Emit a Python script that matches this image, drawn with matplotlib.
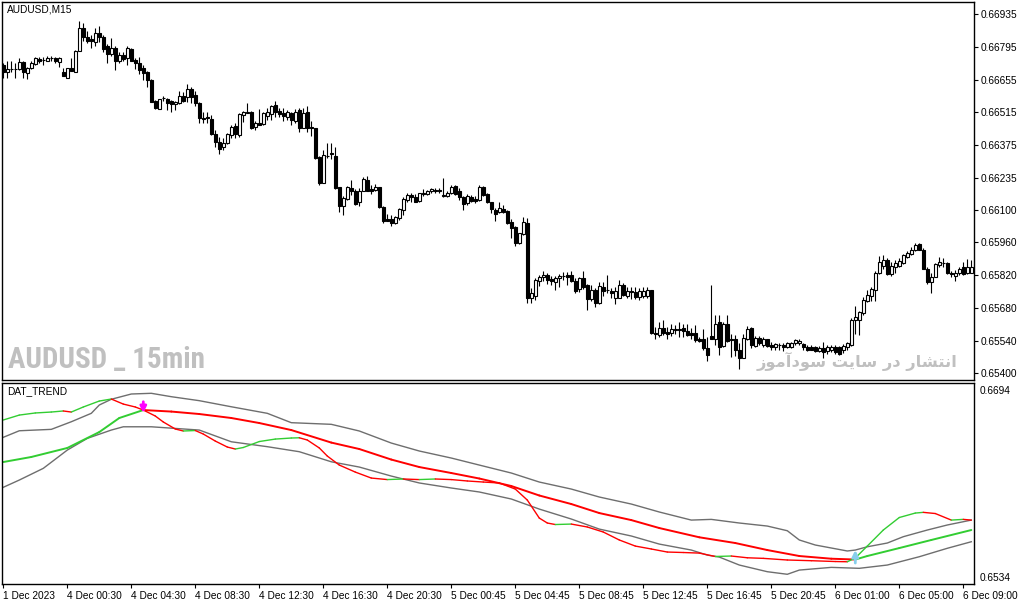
import numpy as np
import matplotlib
matplotlib.use('Agg')
import matplotlib.pyplot as plt
from matplotlib import font_manager

plt.rcParams['font.family'] = ['Liberation Sans', 'DejaVu Sans']

# AUDUSD M15 candles (bar 0 = first visible bar)
opens = [0.66717, 0.66689, 0.66699, 0.66701, 0.66700, 0.66729, 0.66682, 0.66706, 0.66720, 0.66743,
         0.66738, 0.66734, 0.66747, 0.66749, 0.66729, 0.66686, 0.66663, 0.66706, 0.66689, 0.66777,
         0.66874, 0.66838, 0.66828, 0.66817, 0.66853, 0.66838, 0.66796, 0.66763, 0.66791, 0.66732,
         0.66760, 0.66746, 0.66786, 0.66739, 0.66725, 0.66706, 0.66686, 0.66653, 0.66564, 0.66528,
         0.66576, 0.66572, 0.66564, 0.66549, 0.66554, 0.66585, 0.66582, 0.66615, 0.66589, 0.66554,
         0.66492, 0.66495, 0.66487, 0.66423, 0.66390, 0.66366, 0.66383, 0.66418, 0.66457, 0.66418,
         0.66504, 0.66514, 0.66518, 0.66452, 0.66469, 0.66464, 0.66500, 0.66508, 0.66547, 0.66521,
         0.66514, 0.66497, 0.66514, 0.66476, 0.66523, 0.66450, 0.66518, 0.66454, 0.66447, 0.66326,
         0.66215, 0.66328, 0.66343, 0.66329, 0.66195, 0.66115, 0.66144, 0.66191, 0.66181, 0.66130,
         0.66181, 0.66227, 0.66187, 0.66184, 0.66195, 0.66110, 0.66058, 0.66058, 0.66044, 0.66063,
         0.66098, 0.66141, 0.66162, 0.66155, 0.66138, 0.66172, 0.66167, 0.66177, 0.66184, 0.66185,
         0.66162, 0.66158, 0.66170, 0.66201, 0.66177, 0.66155, 0.66127, 0.66155, 0.66144, 0.66141,
         0.66195, 0.66167, 0.66130, 0.66098, 0.66090, 0.66102, 0.66095, 0.66048, 0.66024, 0.65958,
         0.65995, 0.66041, 0.65724, 0.65730, 0.65796, 0.65810, 0.65820, 0.65805, 0.65789, 0.65806,
         0.65815, 0.65820, 0.65820, 0.65796, 0.65759, 0.65806, 0.65777, 0.65716, 0.65756, 0.65699,
         0.65770, 0.65757, 0.65752, 0.65724, 0.65724, 0.65777, 0.65730, 0.65750, 0.65749, 0.65727,
         0.65730, 0.65730, 0.65756, 0.65571, 0.65564, 0.65592, 0.65577, 0.65571, 0.65585, 0.65588,
         0.65592, 0.65582, 0.65571, 0.65574, 0.65545, 0.65545, 0.65507, 0.65561, 0.65549, 0.65618,
         0.65517, 0.65609, 0.65545, 0.65545, 0.65500, 0.65468, 0.65549, 0.65592, 0.65517, 0.65553,
         0.65521, 0.65545, 0.65521, 0.65514, 0.65522, 0.65521, 0.65514, 0.65514, 0.65528, 0.65528,
         0.65525, 0.65514, 0.65514, 0.65511, 0.65497, 0.65507, 0.65497, 0.65500, 0.65514, 0.65511,
         0.65500, 0.65511, 0.65521, 0.65627, 0.65630, 0.65659, 0.65710, 0.65730, 0.65756, 0.65830,
         0.65858, 0.65884, 0.65824, 0.65855, 0.65858, 0.65872, 0.65898, 0.65909, 0.65927, 0.65952,
         0.65929, 0.65848, 0.65791, 0.65813, 0.65862, 0.65870, 0.65872, 0.65830, 0.65817, 0.65827,
         0.65855, 0.65830, 0.65830]
highs = [0.66727, 0.66732, 0.66734, 0.66725, 0.66749, 0.66732, 0.66710, 0.66732, 0.66753, 0.66753,
         0.66753, 0.66757, 0.66756, 0.66753, 0.66753, 0.66703, 0.66706, 0.66746, 0.66781, 0.66905,
         0.66895, 0.66863, 0.66843, 0.66877, 0.66884, 0.66843, 0.66806, 0.66831, 0.66796, 0.66774,
         0.66772, 0.66800, 0.66789, 0.66749, 0.66753, 0.66717, 0.66692, 0.66658, 0.66568, 0.66572,
         0.66586, 0.66575, 0.66568, 0.66564, 0.66606, 0.66601, 0.66636, 0.66621, 0.66606, 0.66558,
         0.66515, 0.66518, 0.66504, 0.66440, 0.66411, 0.66404, 0.66425, 0.66461, 0.66468, 0.66511,
         0.66521, 0.66554, 0.66520, 0.66476, 0.66528, 0.66518, 0.66533, 0.66547, 0.66564, 0.66533,
         0.66533, 0.66526, 0.66518, 0.66528, 0.66533, 0.66533, 0.66540, 0.66476, 0.66450, 0.66329,
         0.66355, 0.66386, 0.66386, 0.66369, 0.66198, 0.66158, 0.66201, 0.66224, 0.66187, 0.66191,
         0.66238, 0.66244, 0.66205, 0.66209, 0.66198, 0.66113, 0.66081, 0.66077, 0.66073, 0.66106,
         0.66152, 0.66170, 0.66172, 0.66167, 0.66172, 0.66187, 0.66184, 0.66191, 0.66190, 0.66190,
         0.66233, 0.66177, 0.66205, 0.66205, 0.66191, 0.66158, 0.66167, 0.66162, 0.66158, 0.66205,
         0.66201, 0.66170, 0.66134, 0.66105, 0.66133, 0.66119, 0.66098, 0.66058, 0.66029, 0.66001,
         0.66069, 0.66062, 0.65763, 0.65806, 0.65820, 0.65837, 0.65827, 0.65816, 0.65816, 0.65824,
         0.65834, 0.65834, 0.65837, 0.65806, 0.65813, 0.65837, 0.65781, 0.65777, 0.65763, 0.65791,
         0.65791, 0.65820, 0.65763, 0.65767, 0.65799, 0.65787, 0.65770, 0.65767, 0.65770, 0.65763,
         0.65770, 0.65767, 0.65757, 0.65599, 0.65620, 0.65628, 0.65599, 0.65611, 0.65606, 0.65620,
         0.65611, 0.65613, 0.65592, 0.65606, 0.65557, 0.65588, 0.65557, 0.65777, 0.65649, 0.65649,
         0.65620, 0.65649, 0.65568, 0.65564, 0.65528, 0.65568, 0.65602, 0.65599, 0.65559, 0.65559,
         0.65556, 0.65549, 0.65535, 0.65531, 0.65531, 0.65528, 0.65535, 0.65534, 0.65549, 0.65545,
         0.65531, 0.65521, 0.65521, 0.65517, 0.65517, 0.65535, 0.65521, 0.65521, 0.65521, 0.65517,
         0.65525, 0.65535, 0.65635, 0.65687, 0.65667, 0.65727, 0.65756, 0.65770, 0.65838, 0.65901,
         0.65905, 0.65891, 0.65877, 0.65884, 0.65895, 0.65912, 0.65924, 0.65941, 0.65955, 0.65958,
         0.65934, 0.65853, 0.65827, 0.65872, 0.65898, 0.65891, 0.65877, 0.65838, 0.65841, 0.65853,
         0.65877, 0.65887, 0.65884]
lows = [0.66663, 0.66660, 0.66689, 0.66660, 0.66696, 0.66663, 0.66656, 0.66700, 0.66717, 0.66725,
        0.66717, 0.66732, 0.66732, 0.66725, 0.66710, 0.66668, 0.66663, 0.66692, 0.66689, 0.66777,
        0.66820, 0.66810, 0.66789, 0.66800, 0.66817, 0.66774, 0.66727, 0.66757, 0.66696, 0.66725,
        0.66736, 0.66717, 0.66732, 0.66700, 0.66678, 0.66653, 0.66621, 0.66558, 0.66529, 0.66528,
        0.66564, 0.66525, 0.66518, 0.66525, 0.66549, 0.66558, 0.66558, 0.66554, 0.66544, 0.66468,
        0.66468, 0.66468, 0.66418, 0.66369, 0.66336, 0.66354, 0.66380, 0.66407, 0.66404, 0.66411,
        0.66472, 0.66511, 0.66445, 0.66440, 0.66461, 0.66461, 0.66483, 0.66483, 0.66497, 0.66497,
        0.66476, 0.66483, 0.66461, 0.66469, 0.66433, 0.66447, 0.66433, 0.66412, 0.66315, 0.66205,
        0.66212, 0.66319, 0.66315, 0.66187, 0.66091, 0.66077, 0.66141, 0.66162, 0.66120, 0.66115,
        0.66177, 0.66177, 0.66167, 0.66177, 0.66106, 0.66041, 0.66049, 0.66030, 0.66039, 0.66056,
        0.66077, 0.66134, 0.66134, 0.66134, 0.66134, 0.66158, 0.66162, 0.66170, 0.66170, 0.66172,
        0.66155, 0.66155, 0.66167, 0.66162, 0.66141, 0.66096, 0.66120, 0.66130, 0.66127, 0.66138,
        0.66158, 0.66127, 0.66087, 0.66052, 0.66083, 0.66083, 0.66038, 0.65977, 0.65944, 0.65952,
        0.65991, 0.65699, 0.65699, 0.65713, 0.65773, 0.65796, 0.65784, 0.65777, 0.65756, 0.65770,
        0.65799, 0.65777, 0.65791, 0.65742, 0.65749, 0.65759, 0.65673, 0.65710, 0.65682, 0.65696,
        0.65730, 0.65742, 0.65720, 0.65696, 0.65720, 0.65730, 0.65720, 0.65716, 0.65716, 0.65713,
        0.65720, 0.65724, 0.65568, 0.65545, 0.65557, 0.65564, 0.65549, 0.65559, 0.65568, 0.65557,
        0.65557, 0.65559, 0.65549, 0.65535, 0.65535, 0.65502, 0.65454, 0.65545, 0.65521, 0.65478,
        0.65514, 0.65535, 0.65471, 0.65474, 0.65417, 0.65464, 0.65542, 0.65507, 0.65511, 0.65521,
        0.65514, 0.65511, 0.65502, 0.65502, 0.65500, 0.65497, 0.65507, 0.65507, 0.65521, 0.65521,
        0.65502, 0.65497, 0.65500, 0.65492, 0.65492, 0.65464, 0.65485, 0.65492, 0.65482, 0.65478,
        0.65488, 0.65502, 0.65517, 0.65568, 0.65563, 0.65649, 0.65706, 0.65710, 0.65710, 0.65824,
        0.65848, 0.65820, 0.65817, 0.65830, 0.65855, 0.65867, 0.65891, 0.65905, 0.65924, 0.65927,
        0.65844, 0.65784, 0.65742, 0.65810, 0.65855, 0.65855, 0.65824, 0.65813, 0.65796, 0.65820,
        0.65820, 0.65824, 0.65827]
closes = [0.66686, 0.66700, 0.66700, 0.66699, 0.66729, 0.66686, 0.66706, 0.66725, 0.66746, 0.66736,
          0.66739, 0.66749, 0.66746, 0.66732, 0.66749, 0.66668, 0.66703, 0.66692, 0.66777, 0.66874,
          0.66838, 0.66820, 0.66820, 0.66853, 0.66838, 0.66786, 0.66763, 0.66791, 0.66732, 0.66760,
          0.66743, 0.66791, 0.66732, 0.66725, 0.66696, 0.66682, 0.66653, 0.66561, 0.66532, 0.66571,
          0.66578, 0.66554, 0.66549, 0.66558, 0.66585, 0.66564, 0.66615, 0.66582, 0.66554, 0.66490,
          0.66487, 0.66490, 0.66421, 0.66390, 0.66359, 0.66386, 0.66421, 0.66454, 0.66421, 0.66507,
          0.66515, 0.66515, 0.66447, 0.66471, 0.66461, 0.66514, 0.66518, 0.66543, 0.66518, 0.66508,
          0.66500, 0.66518, 0.66483, 0.66518, 0.66447, 0.66514, 0.66447, 0.66447, 0.66319, 0.66212,
          0.66333, 0.66330, 0.66336, 0.66191, 0.66115, 0.66148, 0.66195, 0.66177, 0.66124, 0.66181,
          0.66229, 0.66177, 0.66180, 0.66195, 0.66110, 0.66053, 0.66051, 0.66044, 0.66067, 0.66101,
          0.66144, 0.66162, 0.66152, 0.66134, 0.66170, 0.66167, 0.66177, 0.66187, 0.66180, 0.66180,
          0.66158, 0.66172, 0.66198, 0.66167, 0.66152, 0.66124, 0.66158, 0.66138, 0.66138, 0.66195,
          0.66162, 0.66130, 0.66101, 0.66080, 0.66105, 0.66090, 0.66041, 0.66019, 0.65958, 0.65998,
          0.66045, 0.65720, 0.65742, 0.65801, 0.65810, 0.65820, 0.65801, 0.65796, 0.65806, 0.65816,
          0.65817, 0.65813, 0.65796, 0.65753, 0.65806, 0.65770, 0.65716, 0.65756, 0.65699, 0.65773,
          0.65753, 0.65755, 0.65744, 0.65753, 0.65777, 0.65734, 0.65752, 0.65749, 0.65727, 0.65753,
          0.65752, 0.65756, 0.65574, 0.65567, 0.65592, 0.65574, 0.65568, 0.65588, 0.65588, 0.65587,
          0.65582, 0.65564, 0.65564, 0.65542, 0.65539, 0.65507, 0.65478, 0.65549, 0.65613, 0.65514,
          0.65609, 0.65539, 0.65541, 0.65500, 0.65467, 0.65553, 0.65588, 0.65521, 0.65553, 0.65528,
          0.65549, 0.65517, 0.65511, 0.65525, 0.65521, 0.65511, 0.65531, 0.65528, 0.65542, 0.65538,
          0.65511, 0.65502, 0.65502, 0.65497, 0.65507, 0.65492, 0.65514, 0.65514, 0.65492, 0.65482,
          0.65517, 0.65531, 0.65627, 0.65639, 0.65663, 0.65713, 0.65734, 0.65759, 0.65830, 0.65877,
          0.65884, 0.65824, 0.65858, 0.65870, 0.65881, 0.65905, 0.65915, 0.65929, 0.65948, 0.65929,
          0.65848, 0.65791, 0.65813, 0.65867, 0.65877, 0.65872, 0.65827, 0.65824, 0.65830, 0.65848,
          0.65824, 0.65855, 0.65855]

time_ticks = [0, 16, 32, 48, 64, 80, 96, 112, 128, 144, 160, 176, 192, 208, 224, 240]
time_labels = ['1 Dec 2023', '4 Dec 00:30', '4 Dec 04:30', '4 Dec 08:30', '4 Dec 12:30',
               '4 Dec 16:30', '4 Dec 20:30', '5 Dec 00:45', '5 Dec 04:45', '5 Dec 08:45',
               '5 Dec 12:45', '5 Dec 16:45', '5 Dec 20:45', '6 Dec 01:00', '6 Dec 05:00',
               '6 Dec 09:00']
price_ticks = [0.66935, 0.66795, 0.66655, 0.66515, 0.66375, 0.66235, 0.66100, 0.65960,
               0.65820, 0.65680, 0.65540, 0.65400]

# DAT_TREND indicator lines (bar index, value)
upper_bars = [0, 4, 12, 17, 22, 24, 27, 32, 37, 42, 49, 57, 66, 72, 82, 89, 97, 104, 112, 119,
              127, 134, 142, 149, 157, 164, 172, 177, 184, 191, 196, 199, 203, 211, 213, 216,
              221, 225, 231, 236, 242]
upper_vals = [0.66536, 0.66592, 0.66604, 0.66669, 0.66741, 0.66812, 0.66861, 0.66906, 0.66912,
              0.66883, 0.66849, 0.66797, 0.66741, 0.66661, 0.66647, 0.66590, 0.66487, 0.66419,
              0.66359, 0.66299, 0.66231, 0.66154, 0.66094, 0.66026, 0.65966, 0.65898, 0.65829,
              0.65835, 0.65804, 0.65778, 0.65738, 0.65659, 0.65616, 0.65565, 0.65573, 0.65601,
              0.65633, 0.65687, 0.65744, 0.65787, 0.65829]
lower_bars = [0, 4, 10, 16, 21, 27, 30, 37, 49, 57, 66, 74, 82, 89, 97, 104, 112, 119, 127,
              134, 142, 149, 157, 164, 172, 176, 179, 184, 191, 196, 199, 207, 214, 221, 229,
              236, 242]
lower_vals = [0.66109, 0.66171, 0.66271, 0.66427, 0.66527, 0.66598, 0.66626, 0.66626, 0.66598,
              0.66498, 0.66456, 0.66413, 0.66327, 0.66282, 0.66205, 0.66146, 0.66103, 0.66069,
              0.66009, 0.65923, 0.65838, 0.65752, 0.65693, 0.65624, 0.65573, 0.65530, 0.65513,
              0.65445, 0.65388, 0.65366, 0.65402, 0.65425, 0.65417, 0.65445, 0.65516, 0.65588,
              0.65644]
slow_bars = [0, 7, 16, 24, 29, 35, 42, 49, 57, 64, 72, 82, 89, 97, 104, 112, 119, 127, 134,
             142, 149, 157, 164, 174, 183, 191, 199, 207, 213, 216, 224, 232, 242]
slow_vals = [0.66325, 0.66368, 0.66445, 0.66581, 0.66701, 0.66769, 0.66756, 0.66735, 0.66701,
             0.66658, 0.66598, 0.66491, 0.66436, 0.66346, 0.66282, 0.66231, 0.66184, 0.66120,
             0.66039, 0.65966, 0.65889, 0.65829, 0.65761, 0.65682, 0.65633, 0.65573, 0.65522,
             0.65499, 0.65492, 0.65522, 0.65590, 0.65659, 0.65744]
fast_bars = [0, 4, 8, 12, 15, 17, 20, 24, 27, 30, 33, 35, 38, 40, 43, 45, 48, 50, 53, 56, 58,
             60, 64, 68, 72, 74, 76, 79, 81, 84, 88, 92, 96, 100, 104, 108, 112, 116, 120, 124,
             128, 131, 134, 136, 138, 142, 146, 150, 154, 158, 162, 166, 170, 174, 178, 182,
             186, 190, 196, 202, 208, 211, 213, 216, 220, 224, 228, 230, 233, 237, 240, 242]
fast_vals = [0.66684, 0.66726, 0.66744, 0.66752, 0.66761, 0.66752, 0.66795, 0.66846, 0.66863,
             0.66820, 0.66795, 0.66769, 0.66718, 0.66667, 0.66607, 0.66590, 0.66594, 0.66564,
             0.66504, 0.66453, 0.66436, 0.66449, 0.66500, 0.66521, 0.66530, 0.66532, 0.66513,
             0.66445, 0.66376, 0.66299, 0.66239, 0.66188, 0.66175, 0.66180, 0.66175, 0.66180,
             0.66175, 0.66163, 0.66154, 0.66146, 0.66094, 0.66000, 0.65846, 0.65804, 0.65791,
             0.65795, 0.65770, 0.65727, 0.65659, 0.65607, 0.65582, 0.65556, 0.65552, 0.65547,
             0.65518, 0.65522, 0.65507, 0.65502, 0.65488, 0.65482, 0.65475, 0.65473, 0.65505,
             0.65607, 0.65744, 0.65851, 0.65889, 0.65895, 0.65885, 0.65829, 0.65835, 0.65829]
ind_ticks = [0.6694, 0.6534]

W, H = 1019, 605
fig = plt.figure(figsize=(W / 100, H / 100), dpi=100)


def panel(l, t, r, b):
    return fig.add_axes([l / W, 1 - b / H, (r - l) / W, (b - t) / H])


ax = panel(2, 2, 974, 380)
ax2 = panel(2, 383, 974, 584)

xlim = (-0.325, 242.675)
x = np.arange(len(closes))
o = np.array(opens)
c = np.array(closes)
up = c >= o

ax.vlines(x, lows, highs, color='black', lw=0.8, zorder=2)
ax.bar(x[up], (c - o)[up], bottom=o[up], width=0.72, color='white',
       edgecolor='black', lw=0.8, zorder=3)
ax.bar(x[~up], (o - c)[~up], bottom=c[~up], width=0.72, color='black',
       edgecolor='black', lw=0.8, zorder=3)
ax.set_xlim(*xlim)
ax.set_ylim(0.65372, 0.66986)
ax.set_xticks([])
ax.yaxis.tick_right()
ax.set_yticks(price_ticks)
ax.set_yticklabels([f'{v:.5f}' for v in price_ticks])
ax.tick_params(axis='y', length=3, width=0.8, pad=2, labelsize=7.3)

ax.text(7 / W, 1 - 10 / H, 'AUDUSD,M15', transform=fig.transFigure, fontsize=7.3,
        va='center')

installed = {f.name for f in font_manager.fontManager.ttflist}
narrow = [f for f in ['Liberation Sans Narrow', 'Roboto Condensed', 'Open Sans Condensed']
          if f in installed]
if narrow:
    wm_family, wm_size = narrow[0], 21
else:
    wm_family, wm_size = 'Liberation Sans', 16.5
ax.text(8 / W, 1 - 360 / H, 'AUDUSD _ 15min', transform=fig.transFigure,
        fontsize=wm_size, fontweight='bold', color='#c0c0c0', va='center', ha='left',
        family=wm_family, zorder=1)
fa = '\uFEAF\uFEEE\uFEE3\uFE81\uFEA9\uFEEE\uFEB3 \uFE96\uFBFE\uFE8E\uFEB3 \uFEAD\uFEA9 \uFEAD\uFE8E\uFEB8\uFE98\uFEE7\uFE8D'
ax.text(957 / W, 1 - 361 / H, fa, transform=fig.transFigure, fontsize=11.7,
        fontweight='bold', color='#c0c0c0', va='center', ha='right',
        family='DejaVu Sans', zorder=1)


def colored(axis, xs, ys, lw):
    for k in range(len(xs) - 1):
        col = '#32cd32' if ys[k + 1] >= ys[k] else '#ff0000'
        axis.plot(xs[k:k + 2], ys[k:k + 2], color=col, lw=lw, solid_capstyle='round')


ax2.plot(upper_bars, upper_vals, color='#6e6e6e', lw=1)
ax2.plot(lower_bars, lower_vals, color='#6e6e6e', lw=1)
colored(ax2, slow_bars, slow_vals, 1.4)
colored(ax2, fast_bars, fast_vals, 1.0)

ax2.annotate('', xy=(35, 0.66744), xytext=(35, 0.66840),
             arrowprops=dict(arrowstyle='-|>', color='#ff00ff', lw=2, mutation_scale=9,
                             shrinkA=0, shrinkB=0))
ax2.annotate('', xy=(213, 0.65573), xytext=(213, 0.65462),
             arrowprops=dict(arrowstyle='-|>', color='#87ceeb', lw=2, mutation_scale=9,
                             shrinkA=0, shrinkB=0))
ax2.text(7 / W, 1 - 391 / H, 'DAT_TREND', transform=fig.transFigure, fontsize=7.3,
         va='center')

ax2.set_xlim(*xlim)
ax2.set_ylim(0.65283, 0.67000)
ax2.yaxis.tick_right()
ax2.set_yticks(ind_ticks)
ax2.set_yticklabels([f'{v:.4f}' for v in ind_ticks])
ax2.tick_params(axis='y', length=0, pad=4, labelsize=7.3)
ax2.set_xticks(time_ticks)
ax2.set_xticklabels(time_labels)
ax2.tick_params(axis='x', length=3, width=0.8, pad=2, labelsize=7.3)
for lbl in ax2.get_xticklabels():
    lbl.set_horizontalalignment('left')

for a in (ax, ax2):
    for s in a.spines.values():
        s.set_linewidth(1.0)
        s.set_color('black')

fig.savefig('out.png', dpi=100)
